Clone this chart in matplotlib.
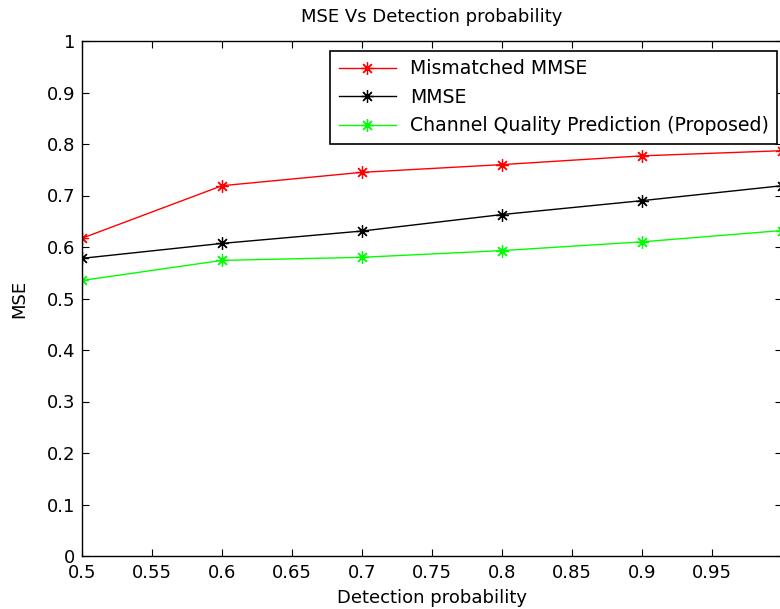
import matplotlib.pyplot as plt

plt.rcParams['font.family'] = ['DejaVu Sans']

# Detection probability values
pd = [0.5, 0.6, 0.7, 0.8, 0.9, 1.0]

# MSE for each method
mismatched_mmse = [0.617, 0.719, 0.745, 0.760, 0.777, 0.787]
mmse = [0.578, 0.607, 0.631, 0.663, 0.690, 0.719]
cqp = [0.535, 0.574, 0.580, 0.593, 0.610, 0.632]

xticks = [0.5, 0.55, 0.6, 0.65, 0.7, 0.75, 0.8, 0.85, 0.9, 0.95, 1.0]
xticklabels = ['0.5', '0.55', '0.6', '0.65', '0.7', '0.75', '0.8', '0.85', '0.9', '0.95', '']
yticks = [0, 0.1, 0.2, 0.3, 0.4, 0.5, 0.6, 0.7, 0.8, 0.9, 1]
yticklabels = ['0', '0.1', '0.2', '0.3', '0.4', '0.5', '0.6', '0.7', '0.8', '0.9', '1']

# MATLAB style asterisk marker
star = (8, 2, 0)


def main():
    fig = plt.figure(figsize=(7.8, 6.09), dpi=100)
    # axes box in pixels: left 82, right ~782, top 41, bottom 556
    ax = fig.add_axes([82 / 780, (609 - 556) / 609, 700 / 780, 515 / 609])

    ax.plot(pd, mismatched_mmse, color='red', marker=star, markersize=9, markeredgewidth=0.9,
            linewidth=1, label='Mismatched MMSE')
    ax.plot(pd, mmse, color='black', marker=star, markersize=9, markeredgewidth=0.9,
            linewidth=1, label='MMSE')
    ax.plot(pd, cqp, color='#00ff00', marker=star, markersize=9, markeredgewidth=0.9,
            linewidth=1, label='Channel Quality Prediction (Proposed)')

    ax.set_xlim(0.5, 1.0)
    ax.set_ylim(0, 1)
    ax.set_xticks(xticks)
    ax.set_xticklabels(xticklabels)
    ax.set_yticks(yticks)
    ax.set_yticklabels(yticklabels)
    ax.tick_params(direction='in', top=True, right=True, labelsize=13, length=5)
    ax.tick_params(axis='x', pad=6)
    ax.tick_params(axis='y', pad=5)
    for s in ax.spines.values():
        s.set_linewidth(1)

    ax.set_xlabel('Detection probability', fontsize=13, labelpad=5)
    ax.set_ylabel('MSE', fontsize=13, labelpad=13)
    ax.set_title('MSE Vs Detection probability', fontsize=13, pad=14)

    leg = ax.legend(loc='upper right', bbox_to_anchor=(0.993, 0.981), fontsize=13.6, fancybox=False,
                    framealpha=1, edgecolor='black', borderpad=0.45, labelspacing=0.5,
                    handlelength=3.0, handletextpad=0.75, borderaxespad=0)
    leg.get_frame().set_linewidth(1.2)

    fig.savefig('out.png', dpi=100)


if __name__ == '__main__':
    main()
